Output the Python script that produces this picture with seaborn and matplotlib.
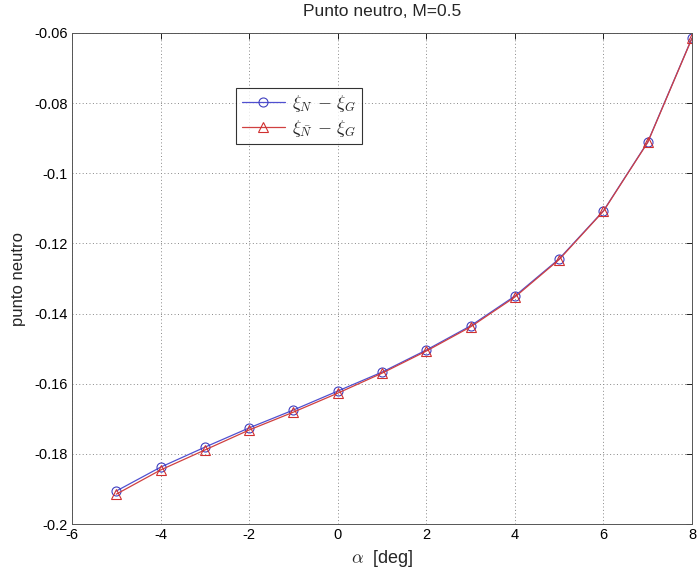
import matplotlib
matplotlib.use("Agg")
import matplotlib.pyplot as plt
import seaborn as sns
import pandas as pd

alpha = [-5, -4, -3, -2, -1, 0, 1, 2, 3, 4, 5, 6, 7, 8]
xi_N = [-0.1906, -0.1838, -0.1781, -0.1726, -0.1675, -0.1621, -0.1567, -0.1504,
        -0.1435, -0.1350, -0.1244, -0.1107, -0.0911, -0.0614]
xi_Nbar = [-0.1915, -0.1846, -0.1789, -0.1732, -0.1681, -0.1627, -0.1570, -0.1507,
           -0.1438, -0.1353, -0.1246, -0.1108, -0.0912, -0.0615]

sns.set_style("white")
plt.rcParams['font.family'] = ['Liberation Sans', 'DejaVu Sans']
plt.rcParams['mathtext.fontset'] = 'cm'

fig = plt.figure(figsize=(6.98, 5.72), dpi=100)
ax = fig.add_axes([72/698, 48/572, 620/698, 491/572])

df1 = pd.DataFrame({"x": alpha, "y": xi_N})
df2 = pd.DataFrame({"x": alpha, "y": xi_Nbar})
sns.lineplot(data=df1, x="x", y="y", ax=ax, color="#5050d0", lw=0.9, marker="o",
             markersize=6.5, markerfacecolor="none", markeredgecolor="#4040c0",
             markeredgewidth=0.8, label=r"$\xi_N\,-\,\xi_G$")
sns.lineplot(data=df2, x="x", y="y", ax=ax, color="#d04040", lw=0.9, marker="^",
             markersize=6.5, markerfacecolor="none", markeredgecolor="#d03030",
             markeredgewidth=0.8, label=r"$\xi_{\bar{N}}\,-\,\xi_G$")

ax.set_xlim(-6, 8)
ax.set_ylim(-0.2, -0.06)
ax.set_xticks(range(-6, 9, 2))
ax.set_yticks([-0.2, -0.18, -0.16, -0.14, -0.12, -0.1, -0.08, -0.06])
ax.set_yticklabels(["-0.2", "-0.18", "-0.16", "-0.14", "-0.12", "-0.1", "-0.08", "-0.06"])
ax.set_xticklabels([str(v) for v in range(-6, 9, 2)])
ax.tick_params(direction="in", length=4, labelsize=10.5, colors="black", width=0.6,
               top=True, right=True, pad=3)
ax.grid(True, linestyle=(0, (1, 2.5)), color="#888888", lw=0.7)
for s in ax.spines.values():
    s.set_color("#555555")
    s.set_linewidth(0.7)

ax.set_xlabel(r"$\alpha$  [deg]", fontsize=13, labelpad=4)
ax.set_ylabel("punto neutro", fontsize=12, labelpad=6)
ax.set_title("Punto neutro, M=0.5", fontsize=12.5, pad=12)

leg = ax.legend(loc="upper left", bbox_to_anchor=(0.265, 0.888), fontsize=13,
                frameon=True, fancybox=False, edgecolor="black", borderpad=0.3,
                handlelength=2.4, labelspacing=0.2, handletextpad=0.4,
                borderaxespad=0)
leg.get_frame().set_linewidth(0.8)

fig.savefig("out.png", dpi=100)
